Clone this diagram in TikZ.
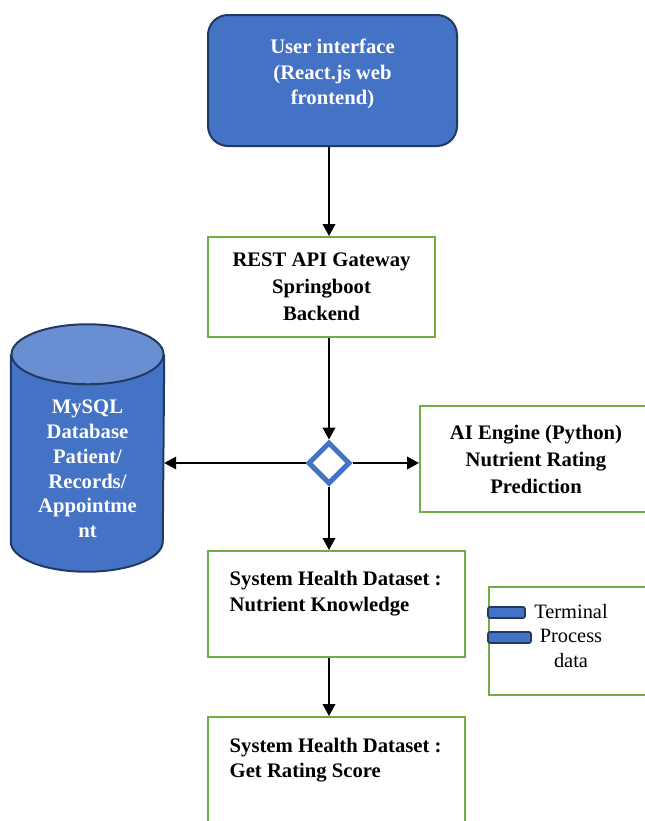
\documentclass[tikz,border=0pt]{standalone}
\usepackage{fontspec}
\setmainfont{Liberation Serif}
\usetikzlibrary{arrows.meta,shapes.geometric}
\definecolor{figink}{HTML}{000000}
\definecolor{uiblue}{HTML}{4472C4}
\definecolor{uiedge}{HTML}{223A63}
\definecolor{dbtop}{HTML}{6A8ED2}
\definecolor{boxgreen}{HTML}{70AD47}

\begin{document}
\begin{tikzpicture}[
  x=0.75pt,y=-0.75pt,
  draw=figink,text=figink,
  line width=1.1pt,
  >={Triangle[length=9pt,width=9.5pt]},
  every node/.style={font=\fontsize{15.5}{19}\selectfont\bfseries},
  uibox/.style={draw=uiedge,fill=uiblue,line width=1.5pt,rounded corners=15pt,
    minimum width=186.75pt,minimum height=98.25pt},
  stepbox/.style={draw=boxgreen,line width=1.5pt,inner sep=0pt},
  wide/.style={font=\fontsize{15.5}{20.2}\selectfont\bfseries,align=center},
  steptext/.style={align=left,inner sep=0pt,anchor=north west},
  whitetext/.style={text=white,align=center,inner sep=0pt},
  decbox/.style={diamond,draw=uiblue,line width=3.75pt,fill=white,
    minimum size=31.5pt,inner sep=0pt},
  dbbody/.style={minimum width=114pt,minimum height=139.5pt,inner sep=0pt},
  dbline/.style={draw=uiedge,line width=1.5pt},
  keybox/.style={draw=uiedge,fill=uiblue,line width=1.3pt,rounded corners=1.5pt,
    minimum height=8.25pt,inner sep=0pt},
  legendtext/.style={font=\fontsize{15.3}{18.5}\selectfont,align=center,inner sep=0pt}
]
\useasboundingbox (0,0) rectangle (644,821);

% Main chain of blocks
\node[uibox] (ui) at (332.5,80.5) {};
\node[whitetext,anchor=north] (uilabel) at ([yshift=-18.5pt]ui.north)
  {User interface\\(React.js web\\frontend)};
\node[stepbox,wide,minimum width=170.25pt,minimum height=75pt]
  (rest) at (321.5,287) {REST API Gateway\\Springboot\\Backend};
\node[decbox] (dec) at (329,463) {};
\node[stepbox,wide,minimum width=174pt,minimum height=79.5pt]
  (ai) at (536,459) {AI Engine (Python)\\Nutrient Rating\\Prediction};
\node[stepbox,minimum width=192.75pt,minimum height=79.5pt] (data1) at (336.5,604) {};
\node[steptext] (data1label) at ([xshift=16.5pt,yshift=-15.5pt]data1.north west)
  {System Health Dataset :\\Nutrient Knowledge};
\node[stepbox,minimum width=192.75pt,minimum height=88.5pt] (data2) at (336.5,776) {};
\node[steptext] (data2label) at ([xshift=16.5pt,yshift=-16pt]data2.north west)
  {System Health Dataset :\\Get Rating Score};

% Database cylinder
\node[dbbody] (db) at (87.5,448) {};
\fill[uiblue] (db.north west) -- (db.south west)
  arc[start angle=180,end angle=360,x radius=57pt,y radius=22.5pt]
  -- (db.north east) -- cycle;
\draw[dbline] (db.north west) -- (db.south west)
  arc[start angle=180,end angle=360,x radius=57pt,y radius=22.5pt]
  -- (db.north east);
\filldraw[dbline,fill=dbtop] (db.north) ellipse[x radius=57pt,y radius=22.5pt];
\node[whitetext,font=\fontsize{15.5}{18.6}\selectfont\bfseries] (dblabel) at (87.5,469)
  {MySQL\\Database\\Patient/\\Records/\\Appointme\\nt};

% Legend
\node[stepbox,minimum width=124.5pt,minimum height=81pt] (legend) at (572,641) {};
\node[keybox,minimum width=27.75pt] (termkey) at (506.5,612.5) {};
\node[keybox,minimum width=32.25pt] (prockey) at (509.5,637.5) {};
\node[legendtext] (legendlabel) at (571,636) {Terminal\\Process\\data};

% Connectors
\draw[->] (dec |- ui.south) -- (dec |- rest.north);
\draw[->] (dec |- rest.south) -- (dec.north);
\draw[->] (dec.west) -- (dec -| db.east);
\draw[->] (dec.east) -- (dec -| ai.west);
\draw[->] (dec.south) -- (dec |- data1.north);
\draw[->] (dec |- data1.south) -- (dec |- data2.north);

\end{tikzpicture}
\end{document}
